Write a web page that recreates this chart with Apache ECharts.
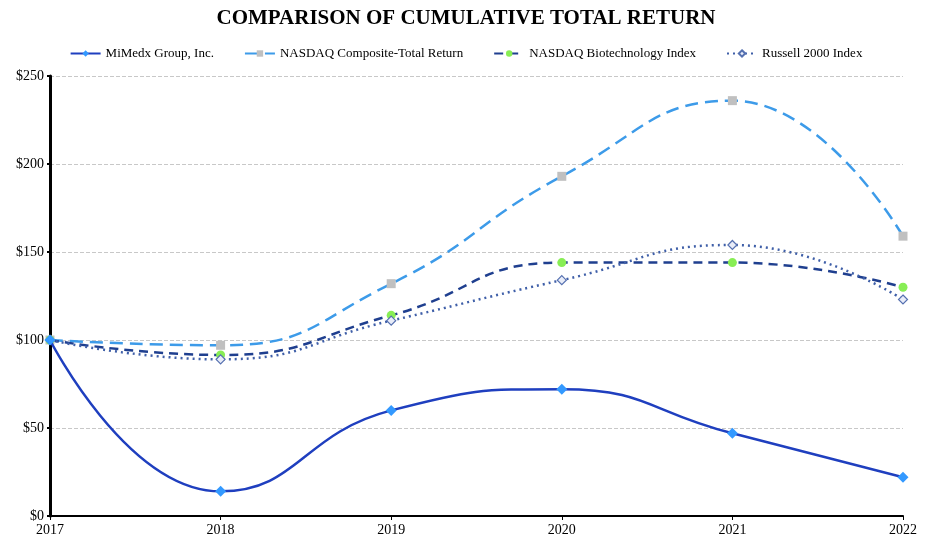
<!DOCTYPE html>
<html><head><meta charset="utf-8">
<script src="https://cdn.jsdelivr.net/npm/echarts@6/dist/echarts.min.js"></script>
<style>html,body{margin:0;padding:0;background:#fff}#c{width:932px;height:545px}</style>
</head><body><div id="c"></div>
<script>
const years = ['2017','2018','2019','2020','2021','2022'];
const mimedx = [100, 14, 60, 72, 47, 22];
const nasdaqComp = [100, 97, 132, 193, 236, 159];
const nasdaqBio = [100, 91.5, 114, 144, 144, 130];
const russell = [100, 89, 111, 134, 154, 123];
const yTicks = [0, 50, 100, 150, 200, 250];

const font = 'Liberation Serif, Times New Roman, serif';
const chart = echarts.init(document.getElementById('c'));
chart.setOption({
  animation: false,
  backgroundColor: '#fff',
  title: {text: 'COMPARISON OF CUMULATIVE TOTAL RETURN', left: 'center', top: 3,
    textStyle: {fontFamily: font, fontSize: 21, fontWeight: 'bold', color: '#000'}},
  legend: {top: 42, left: 'center', itemWidth: 30, itemHeight: 8, itemGap: 30,
    textStyle: {fontFamily: font, fontSize: 13, color: '#000'},
    data: ['MiMedx Group, Inc.', 'NASDAQ Composite-Total Return', 'NASDAQ Biotechnology Index', 'Russell 2000 Index']},
  grid: {left: 50, right: 29, top: 76, bottom: 29},
  xAxis: {type: 'category', data: years, boundaryGap: false,
    axisLine: {lineStyle: {color: '#000', width: 2}},
    axisTick: {show: true, alignWithLabel: true, length: 4, lineStyle: {color: '#000'}},
    axisLabel: {fontFamily: font, fontSize: 14, color: '#000', margin: 7},
    splitLine: {show: false}},
  yAxis: {type: 'value', min: yTicks[0], max: yTicks[yTicks.length - 1], interval: 50,
    axisLine: {show: true, lineStyle: {color: '#000', width: 3}},
    axisTick: {show: true, length: 3, lineStyle: {color: '#000', width: 2}},
    axisLabel: {fontFamily: font, fontSize: 14, color: '#000', margin: 6,
      formatter: v => '$' + v},
    splitLine: {lineStyle: {color: '#c8c8c8', type: 'dashed', width: 1}}},
  series: [
    {name: 'MiMedx Group, Inc.', type: 'line', data: mimedx, smooth: 0.5,
      symbol: 'diamond', symbolSize: 11,
      lineStyle: {color: '#1f3fbf', width: 2.5},
      itemStyle: {color: '#3399ff', borderWidth: 0}, z: 4},
    {name: 'NASDAQ Composite-Total Return', type: 'line', data: nasdaqComp, smooth: 0.5,
      symbol: 'rect', symbolSize: 9,
      lineStyle: {color: '#3d9be9', width: 2.5, type: [13, 7]},
      itemStyle: {color: '#c0c0c0', borderWidth: 0}, z: 3},
    {name: 'NASDAQ Biotechnology Index', type: 'line', data: nasdaqBio, smooth: 0.5,
      symbol: 'circle', symbolSize: 9,
      lineStyle: {color: '#1f3f8f', width: 2.5, type: [9, 6]},
      itemStyle: {color: '#88ee55', borderWidth: 0}, z: 3},
    {name: 'Russell 2000 Index', type: 'line', data: russell, smooth: 0.5,
      symbol: 'diamond', symbolSize: 9,
      lineStyle: {color: '#3f5fa8', width: 2.5, type: [2, 4]},
      itemStyle: {color: '#e8ecf8', borderColor: '#5570b0', borderWidth: 1.2}, z: 3}
  ]
});
</script></body></html>
